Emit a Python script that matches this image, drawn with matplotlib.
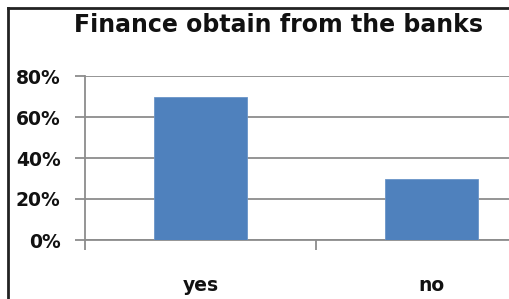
import matplotlib
matplotlib.use("Agg")
import matplotlib.pyplot as plt
from matplotlib.lines import Line2D

categories = ["yes", "no"]
values = [70, 30]
yticks = [0, 20, 40, 60, 80]
ytick_labels = ["0%", "20%", "40%", "60%", "80%"]
title = "Finance obtain from the banks"

W, H = 509, 299
fig = plt.figure(figsize=(W/100, H/100), dpi=100)
fig.patch.set_facecolor("white")

# axes: left at x=85, right beyond the figure edge (cropped), y from 76 to 240
x0, x1 = 85, 547
y_top, y_bot = 76, 240
ax = fig.add_axes([x0/W, 1 - y_bot/H, (x1 - x0)/W, (y_bot - y_top)/H])
ax.set_facecolor("none")

font = "DejaVu Sans"
grid_c = "#8c8c8c"
txt_c = "#111111"

ax.bar(range(len(categories)), values, width=0.4, color="#4F81BD",
       edgecolor="#6a95c8", linewidth=0.6, zorder=3)
ax.set_xlim(-0.5, 1.5)
ax.set_ylim(0, 80)
ax.set_yticks(yticks)
ax.set_yticklabels(ytick_labels, fontfamily=font, fontweight="bold", fontsize=13.5,
                   color=txt_c)
ax.yaxis.grid(True, color=grid_c, linewidth=1.3, zorder=0)
ax.set_axisbelow(True)

ax.set_xticks([0.5, -0.5])
ax.set_xticklabels(["", ""])
ax.tick_params(axis="x", length=7, width=1.3, color=grid_c, direction="out")
ax.tick_params(axis="y", length=7, width=1.3, color=grid_c, direction="out", pad=10.5)
for s in ["top", "right"]:
    ax.spines[s].set_visible(False)
for s in ["left", "bottom"]:
    ax.spines[s].set_color(grid_c)
    ax.spines[s].set_linewidth(1.3)

for i, c in enumerate(categories):
    ax.text(i, -22, c, ha="center", va="center", fontfamily=font,
            fontweight="bold", fontsize=13.5, color=txt_c,
            transform=ax.transData, clip_on=False)

fig.text(278/W, 1 - 32/H, title, ha="center", va="baseline",
         fontfamily=font, fontweight="bold", fontsize=17, color=txt_c)

# chart outer border (left and top visible)
fig.add_artist(Line2D([8/W, 8/W], [0, 1 - 8/H], color="#222222", linewidth=2,
                      transform=fig.transFigure))
fig.add_artist(Line2D([8/W, 1], [1 - 8/H, 1 - 8/H], color="#222222", linewidth=2,
                      transform=fig.transFigure))

fig.savefig("out.png", dpi=100)
